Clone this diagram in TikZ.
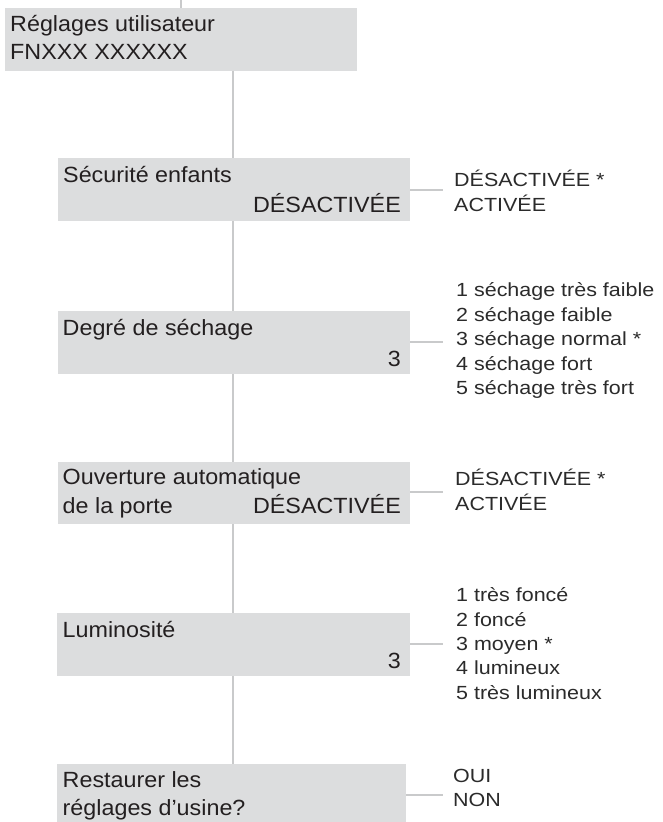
\documentclass[tikz,border=0pt]{standalone}
\usepackage{fontspec}
\setmainfont{Liberation Sans}
\newfontfamily\boxfam[FakeStretch=1.06]{Liberation Sans}
\newfontfamily\optfam[FakeStretch=1.13]{Liberation Sans}
\definecolor{boxgray}{HTML}{DCDDDE}
\definecolor{linegray}{HTML}{C9CACB}
\definecolor{txt}{HTML}{231F20}
\definecolor{opttxt}{HTML}{2B2B2B}
\tikzset{
  boxnode/.style={fill=boxgray, inner sep=0pt, outer sep=0pt, anchor=north west},
  conn/.style={draw=linegray, line width=2bp},
  btxt/.style={anchor=base west, inner sep=0pt, text=txt, font=\boxfam\fontsize{22bp}{26bp}\selectfont},
  btxtr/.style={anchor=base east, inner sep=0pt, text=txt, font=\boxfam\fontsize{22bp}{26bp}\selectfont},
  otxt/.style={anchor=base west, inner sep=0pt, text=opttxt, font=\optfam\fontsize{19bp}{23bp}\selectfont}
}
\begin{document}
\begin{tikzpicture}[x=1bp,y=-1bp]
\useasboundingbox[fill=white] (0,0) rectangle (663,822);
\coordinate (topend) at (181,0);
% boxes
\node[boxnode, minimum width=352bp, minimum height=63bp] (b1) at (5,8) {};
\node[boxnode, minimum width=352bp, minimum height=63bp] (b2) at (58,158) {};
\node[boxnode, minimum width=352bp, minimum height=63bp] (b3) at (58,311) {};
\node[boxnode, minimum width=352bp, minimum height=62bp] (b4) at (58,462) {};
\node[boxnode, minimum width=353bp, minimum height=63bp] (b5) at (57,613) {};
\node[boxnode, minimum width=349bp, minimum height=58bp] (b6) at (57,764) {};
% trunk
\draw[conn] (topend) -- (topend |- b1.north);
\draw[conn] (233,71) coordinate (t1) -- (t1 |- b2.north);
\draw[conn] (233,221) coordinate (t2) -- (t2 |- b3.north);
\draw[conn] (233,374) coordinate (t3) -- (t3 |- b4.north);
\draw[conn] (233,524) coordinate (t4) -- (t4 |- b5.north);
\draw[conn] (233,676) coordinate (t5) -- (t5 |- b6.north);
% connectors
\coordinate (c2) at (443,190);
\coordinate (c3) at (443,342);
\coordinate (c4) at (443,492.3);
\coordinate (c5) at (443,644.3);
\coordinate (c6) at (443,795);
\draw[conn] (c2 -| b2.east) -- (c2);
\draw[conn] (c3 -| b3.east) -- (c3);
\draw[conn] (c4 -| b4.east) -- (c4);
\draw[conn] (c5 -| b5.east) -- (c5);
\draw[conn] (c6 -| b6.east) -- (c6);
% box texts
\node[btxt] (l1a) at (10,31.7) {Réglages utilisateur};
\node[btxt] (l1b) at (10,60) {FNXXX XXXXXX};
\node[btxt] (l2a) at (63,182) {Sécurité enfants};
\node[btxtr] (l2b) at (401,212.7) {DÉSACTIVÉE};
\node[btxt] (l3a) at (62.5,335) {Degré de séchage};
\node[btxtr] (l3b) at (401,366.7) {3};
\node[btxt] (l4a) at (62.5,484) {Ouverture automatique};
\node[btxt] (l4b) at (62.5,513.3) {de la porte};
\node[btxtr] (l4c) at (401,513.3) {DÉSACTIVÉE};
\node[btxt] (l5a) at (62.5,637) {Luminosité};
\node[btxtr] (l5b) at (401,668.5) {3};
\node[btxt] (l6a) at (62.5,787) {Restaurer les};
\node[btxt] (l6b) at (62.5,815) {réglages d’usine?};
% options
\node[otxt] (o2a) at (454,186.5) {DÉSACTIVÉE *};
\node[otxt] (o2b) at (454,211) {ACTIVÉE};
\node[otxt] (o3a) at (456,296.7) {1 séchage très faible};
\node[otxt] (o3b) at (456,321) {2 séchage faible};
\node[otxt] (o3c) at (456,345.5) {3 séchage normal *};
\node[otxt] (o3d) at (456,370) {4 séchage fort};
\node[otxt] (o3e) at (456,394.3) {5 séchage très fort};
\node[otxt] (o4a) at (455,485) {DÉSACTIVÉE *};
\node[otxt] (o4b) at (455,510) {ACTIVÉE};
\node[otxt] (o5a) at (456,601.7) {1 très foncé};
\node[otxt] (o5b) at (456,626) {2 foncé};
\node[otxt] (o5c) at (456,650) {3 moyen *};
\node[otxt] (o5d) at (456,674.5) {4 lumineux};
\node[otxt] (o5e) at (456,699) {5 très lumineux};
\node[otxt] (o6a) at (453,782) {OUI};
\node[otxt] (o6b) at (453,806.5) {NON};
\end{tikzpicture}
\end{document}
